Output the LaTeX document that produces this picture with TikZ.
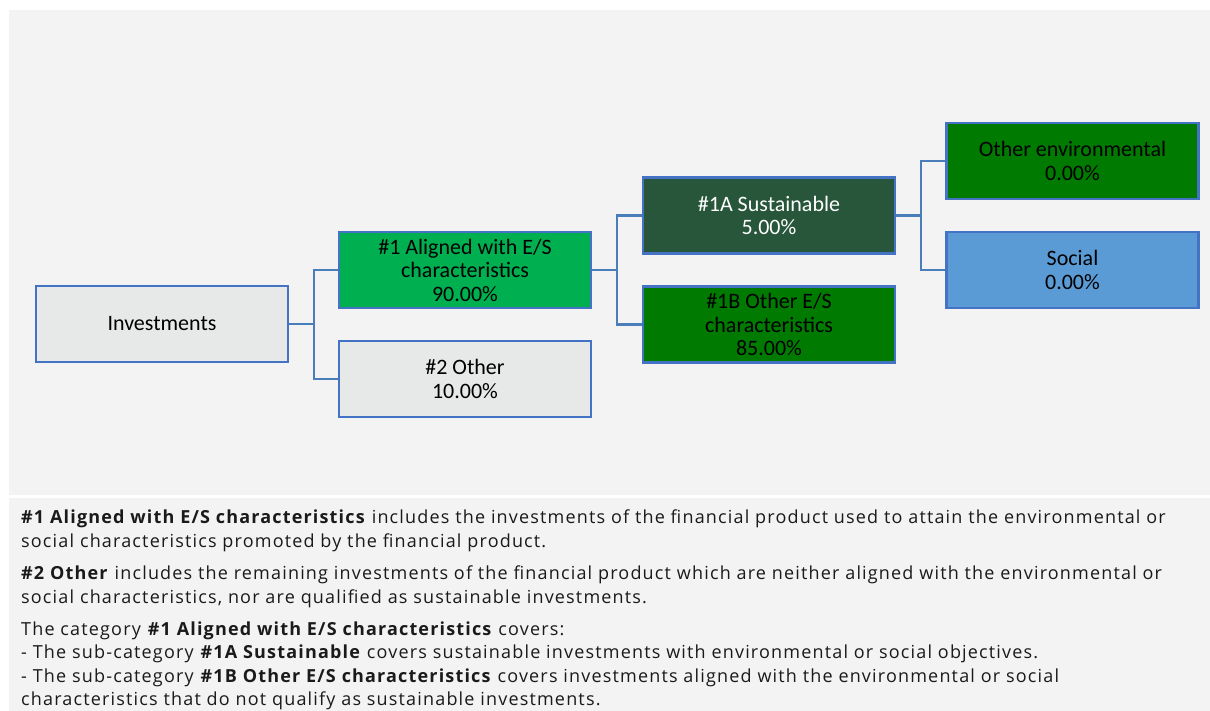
\documentclass[tikz,border=0pt]{standalone}
\usepackage{fontspec}
\setmainfont{Carlito}
\newfontfamily\notefont[LetterSpace=6.5]{Open Sans}
\definecolor{panel}{HTML}{F3F3F3}
\definecolor{boxline}{HTML}{4472C4}
\definecolor{connline}{HTML}{4A7EBB}
\definecolor{greyfill}{HTML}{E7E9E9}
\definecolor{brightgreen}{HTML}{00B050}
\definecolor{darkgreen}{HTML}{27563A}
\definecolor{midgreen}{HTML}{007A00}
\definecolor{socialblue}{HTML}{5B9BD5}
\definecolor{notetext}{HTML}{1A1A1A}
\begin{document}
\begin{tikzpicture}[x=1pt,y=-1pt,
  box/.style={draw=boxline, line width=2.2pt, minimum width=252pt, minimum height=76pt,
    inner sep=0pt, align=center, font=\fontsize{22}{23.5}\selectfont},
  conn/.style={draw=connline, line width=2.4pt},
  note/.style={anchor=base west, inner sep=0pt, text=notetext,
    font=\notefont\fontsize{18}{20}\selectfont}]
\useasboundingbox (0,0) rectangle (1210,711);
\fill[white] (0,0) rectangle (1210,711);
\fill[panel] (9,10) rectangle (1210,495);
\fill[panel] (9,498) rectangle (1210,711);

\node[box, fill=greyfill] (inv) at (162,324) {Investments};
\node[box, fill=brightgreen] (a1) at (465,270) {\#1 Aligned with E/S\\characteristics\\90.00\%};
\node[box, fill=greyfill] (o2) at (465,379) {\#2 Other\\10.00\%};
\node[box, fill=darkgreen, text=white] (s1a) at (769,215.5) {\#1A Sustainable\\5.00\%};
\node[box, fill=midgreen] (s1b) at (769,324.5) {\#1B Other E/S\\characteristics\\85.00\%};
\node[box, fill=midgreen] (oe) at (1072.5,161) {Other environmental\\0.00\%};
\node[box, fill=socialblue] (soc) at (1072.5,270) {Social\\0.00\%};

\draw[conn] (inv.east) -- ++(25,0) |- (a1.west);
\draw[conn] (inv.east) -- ++(25,0) |- (o2.west);
\draw[conn] (a1.east) -- ++(25,0) |- (s1a.west);
\draw[conn] (a1.east) -- ++(25,0) |- (s1b.west);
\draw[conn] (s1a.east) -- ++(25,0) |- (oe.west);
\draw[conn] (s1a.east) -- ++(25,0) |- (soc.west);

\node[note] (l1) at (21,523) {\textbf{\#1 Aligned with E/S characteristics} includes the investments of the financial product used to attain the environmental or};
\node[note] (l2) at (21,547) {social characteristics promoted by the financial product.};
\node[note] (l3) at (21,579) {\textbf{\#2 Other} includes the remaining investments of the financial product which are neither aligned with the environmental or};
\node[note] (l4) at (21,603) {social characteristics, nor are qualified as sustainable investments.};
\node[note] (l5) at (21,635) {The category \textbf{\#1 Aligned with E/S characteristics} covers:};
\node[note] (l6) at (21,658) {- The sub-category \textbf{\#1A Sustainable} covers sustainable investments with environmental or social objectives.};
\node[note] (l7) at (21,682) {- The sub-category \textbf{\#1B Other E/S characteristics} covers investments aligned with the environmental or social};
\node[note] (l8) at (21,705) {characteristics that do not qualify as sustainable investments.};
\end{tikzpicture}
\end{document}
